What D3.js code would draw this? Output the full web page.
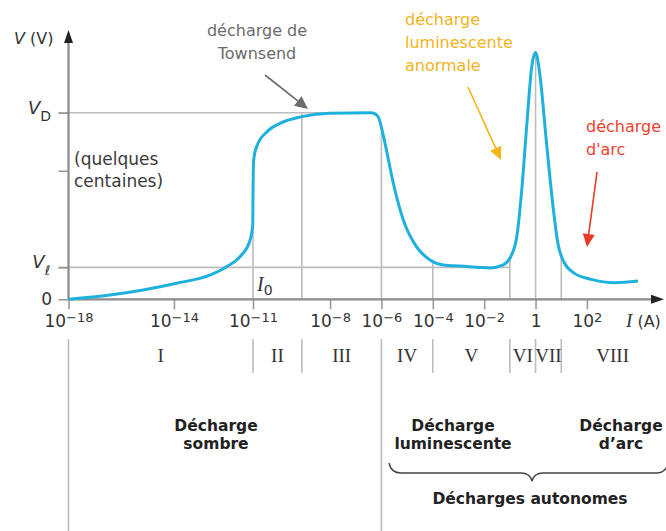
<!DOCTYPE html>
<html>
<head>
<meta charset="utf-8">
<script src="https://cdn.jsdelivr.net/npm/d3@7"></script>
<style>
  body { margin: 0; background: #fff; }
  svg { display: block; font-family: "DejaVu Sans", sans-serif; }
</style>
</head>
<body>
<svg width="666" height="531"></svg>
<script>
// courant I (A)
const current = [1e-18, 3.7e-17, 6.8e-16, 1.26e-14, 2.3e-13, 1e-12, 3.2e-12, 7.8e-12,
  9.8e-12, 1.0e-11, 1.05e-11, 1.38e-11, 3.5e-11, 1.12e-10, 8e-10, 1e-8, 3.6e-7,
  4.7e-7, 7.6e-7, 9.1e-7, 1.38e-6, 2.9e-6, 7.1e-6, 2.3e-5, 7.8e-5, 2.6e-4, 1.15e-3,
  0.017, 0.055, 0.1, 0.186, 0.29, 0.46, 0.71, 1, 1.45, 2.6, 4.8, 7.4, 13.5, 33, 148,
  1200, 9800];
// tension V, en fraction de V_D
const voltage = [0, 0.023, 0.05, 0.086, 0.13, 0.175, 0.228, 0.318,
  0.4, 0.55, 0.74, 0.818, 0.898, 0.943, 0.979, 0.997, 1.0,
  0.998, 0.977, 0.943, 0.836, 0.622, 0.425, 0.282, 0.211, 0.184, 0.178,
  0.168, 0.184, 0.22, 0.335, 0.586, 0.943, 1.247, 1.322, 1.21, 0.854, 0.496, 0.3, 0.193, 0.139, 0.107,
  0.089, 0.098];

const VD = 1, Vl = 0.171, Vmid = 0.689;
const xTicks = [1e-18, 1e-14, 1e-11, 1e-8, 1e-6, 1e-4, 1e-2, 1, 1e2];
// limites des régimes I..VIII
const bounds = [1e-18, 1e-11, 8e-10, 1e-6, 1e-4, 1e-1, 1, 10, 1e5];
const regimes = ["I", "II", "III", "IV", "V", "VI", "VII", "VIII"];

const data = current.map((c, i) => ({ I: c, V: voltage[i] }));

const svg = d3.select("svg");

const x = d3.scaleLog().domain([1e-18, 1e-11, 1e5]).range([68.5, 253, 664]);
const y = d3.scaleLinear().domain([0, VD]).range([299.3, 112.7]);

// tension sur la courbe pour un courant donné (interpolation en log)
function vAt(I) {
  const i = d3.bisector(d => d.I).left(data, I);
  if (i <= 0) return data[0].V;
  if (i >= data.length) return data[data.length - 1].V;
  const a = data[i - 1], b = data[i];
  const t = (Math.log10(I) - Math.log10(a.I)) / (Math.log10(b.I) - Math.log10(a.I));
  return a.V + t * (b.V - a.V);
}

const grey = "#bdbdbd";

// lignes horizontales V_D et V_l
svg.append("line")
  .attr("x1", x(1e-18) - 10).attr("x2", x(4.7e-7))
  .attr("y1", y(VD)).attr("y2", y(VD))
  .attr("stroke", grey).attr("stroke-width", 1.6);
svg.append("line")
  .attr("x1", x(1e-18) - 10).attr("x2", x(0.1))
  .attr("y1", y(Vl)).attr("y2", y(Vl))
  .attr("stroke", grey).attr("stroke-width", 1.6);

// lignes verticales jusqu'à la courbe
svg.selectAll(".guide")
  .data(bounds.slice(1, 8))
  .enter().append("line")
  .attr("class", "guide")
  .attr("x1", d => x(d)).attr("x2", d => x(d))
  .attr("y1", y(0))
  .attr("y2", d => d === 8e-10 ? y(VD) : y(vAt(d)))
  .attr("stroke", grey).attr("stroke-width", 1.6);

// séparateurs des régimes sous l'axe
svg.selectAll(".sep")
  .data(bounds.slice(0, 8))
  .enter().append("line")
  .attr("class", "sep")
  .attr("x1", d => x(d)).attr("x2", d => x(d))
  .attr("y1", 339)
  .attr("y2", d => (d === 1e-18 || d === 1e-6) ? 531 : 373)
  .attr("stroke", grey).attr("stroke-width", 1.6);

svg.selectAll(".roman")
  .data(regimes)
  .enter().append("text")
  .attr("class", "roman")
  .attr("x", (d, i) => (x(bounds[i]) + x(bounds[i + 1])) / 2)
  .attr("y", 362)
  .attr("text-anchor", "middle")
  .style("font", "19px 'Liberation Serif', serif")
  .attr("fill", "#333")
  .text(d => d);

// axe des x
const xAxis = svg.append("g")
  .attr("transform", "translate(0," + y(0) + ")")
  .call(d3.axisBottom(x).tickValues(xTicks).tickSize(10).tickPadding(6).tickFormat(""));
xAxis.select(".domain").remove();
xAxis.selectAll(".tick line").attr("stroke", "#9a9a9a").attr("stroke-width", 1.6);
xAxis.selectAll(".tick text")
  .style("font", "17px 'DejaVu Sans', sans-serif").attr("fill", "#333")
  .each(function (d) {
    const t = d3.select(this);
    const e = Math.round(Math.log10(d));
    if (e === 0) { t.text("1"); return; }
    t.append("tspan").text("10");
    t.append("tspan").attr("dy", "-0.42em").style("font-size", "13px")
      .text(e < 0 ? "\u2212" + (-e) : e);
  });

svg.append("line")
  .attr("x1", x(1e-18)).attr("x2", 654)
  .attr("y1", y(0)).attr("y2", y(0))
  .attr("stroke", "#8a8a8a").attr("stroke-width", 2.2);
svg.append("path")
  .attr("d", "M664," + y(0) + "l-13,-4.5v9z")
  .attr("fill", "#222");

// axe des y
const yAxis = svg.append("g")
  .attr("transform", "translate(" + x(1e-18) + ",0)")
  .call(d3.axisLeft(y).tickValues([0, Vl, Vmid, VD]).tickSize(10).tickFormat(""));
yAxis.select(".domain").remove();
yAxis.selectAll(".tick line").attr("stroke", "#9a9a9a").attr("stroke-width", 1.6);
yAxis.selectAll(".tick text").remove();

svg.append("line")
  .attr("x1", x(1e-18)).attr("x2", x(1e-18))
  .attr("y1", y(0)).attr("y2", 40)
  .attr("stroke", "#8a8a8a").attr("stroke-width", 2.2);
svg.append("path")
  .attr("d", "M" + x(1e-18) + ",30l-4.5,13h9z")
  .attr("fill", "#222");

// étiquettes de l'axe des y
const lab = svg.append("g").attr("fill", "#333");
lab.append("text").attr("x", 52).attr("y", y(0) + 6)
  .attr("text-anchor", "end").style("font-size", "17px").text("0");
const tD = lab.append("text").attr("x", 51).attr("y", y(VD) + 1)
  .attr("text-anchor", "end").style("font-size", "18px");
tD.append("tspan").style("font-style", "italic").text("V");
tD.append("tspan").attr("dy", "0.55em").style("font-size", "14px").text("D");
const tL = lab.append("text").attr("x", 50).attr("y", y(Vl) + 1)
  .attr("text-anchor", "end").style("font-size", "18px");
tL.append("tspan").style("font-style", "italic").text("V");
tL.append("tspan").attr("dy", "0.5em").style("font-size", "13px").style("font-style", "italic").text("\u2113");

const tV = lab.append("text").attr("x", 14).attr("y", 44).style("font-size", "16px");
tV.append("tspan").style("font-style", "italic").text("V");
tV.append("tspan").text(" (V)");

lab.append("text").attr("x", 74).attr("y", 165).style("font-size", "17px").attr("fill", "#3a3a3a").text("(quelques");
lab.append("text").attr("x", 74).attr("y", 187).style("font-size", "17px").attr("fill", "#3a3a3a").text("centaines)");

const tI0 = lab.append("text").attr("x", 257).attr("y", 291)
  .style("font", "italic 20px 'Liberation Serif', serif");
tI0.append("tspan").text("I");
tI0.append("tspan").attr("dy", "0.3em").style("font", "14px 'DejaVu Sans', sans-serif").text("0");

const tIA = lab.append("text").attr("x", 626).attr("y", 327);
tIA.append("tspan").style("font", "italic 19px 'Liberation Serif', serif").text("I");
tIA.append("tspan").style("font-size", "16px").text(" (A)");

// courbe
const line = d3.line()
  .x(d => x(d.I))
  .y(d => y(d.V))
  .curve(d3.curveMonotoneX);

svg.append("path")
  .datum(data)
  .attr("fill", "none")
  .attr("stroke", "#1fb1dd")
  .attr("stroke-width", 3)
  .attr("d", line);

// annotations
function arrow(x1, y1, x2, y2, color, w) {
  const a = Math.atan2(y2 - y1, x2 - x1), L = 13, H = 6;
  const bx = x2 - L * Math.cos(a), by = y2 - L * Math.sin(a);
  svg.append("line").attr("x1", x1).attr("y1", y1).attr("x2", bx).attr("y2", by)
    .attr("stroke", color).attr("stroke-width", w);
  const px = -Math.sin(a) * H, py = Math.cos(a) * H;
  svg.append("path")
    .attr("d", `M${x2},${y2}L${bx + px},${by + py}L${bx - px},${by - py}Z`)
    .attr("fill", color);
}

function lines(txt, xx, yy, dy, color, anchor) {
  const t = svg.append("text").attr("fill", color).style("font-size", "16px")
    .attr("text-anchor", anchor);
  txt.forEach((s, i) => t.append("tspan").attr("x", xx).attr("y", yy + i * dy).text(s));
}

lines(["décharge de", "Townsend"], 257, 36, 23, "#6b6b6b", "middle");
arrow(265, 75, 308, 109, "#6b6b6b", 1.6);

lines(["décharge", "luminescente", "anormale"], 405, 25, 23, "#f1b31c", "start");
arrow(468, 87, 501, 160, "#f4b514", 1.6);

lines(["décharge", "d'arc"], 586, 132, 23, "#ee3f2f", "start");
arrow(597, 172, 587, 247, "#e83a26", 1.6);

// légende du bas
function bold(txt, xx, yy) {
  const t = svg.append("text").attr("fill", "#222").attr("text-anchor", "middle")
    .style("font-size", "15.5px").style("font-weight", "bold");
  txt.forEach((s, i) => t.append("tspan").attr("x", xx).attr("y", yy + i * 18).text(s));
}
bold(["Décharge", "sombre"], 216, 431);
bold(["Décharge", "luminescente"], 453, 431);
bold(["Décharge", "d\u2019arc"], 621, 431);
bold(["Décharges autonomes"], 530, 504);

svg.append("path")
  .attr("d", "M389,463Q391,473 401,473L521,473Q530,473 532,481Q534,473 543,473L656,473Q666,473 668,463")
  .attr("fill", "none").attr("stroke", "#444").attr("stroke-width", 1.5);
</script>
</body>
</html>
